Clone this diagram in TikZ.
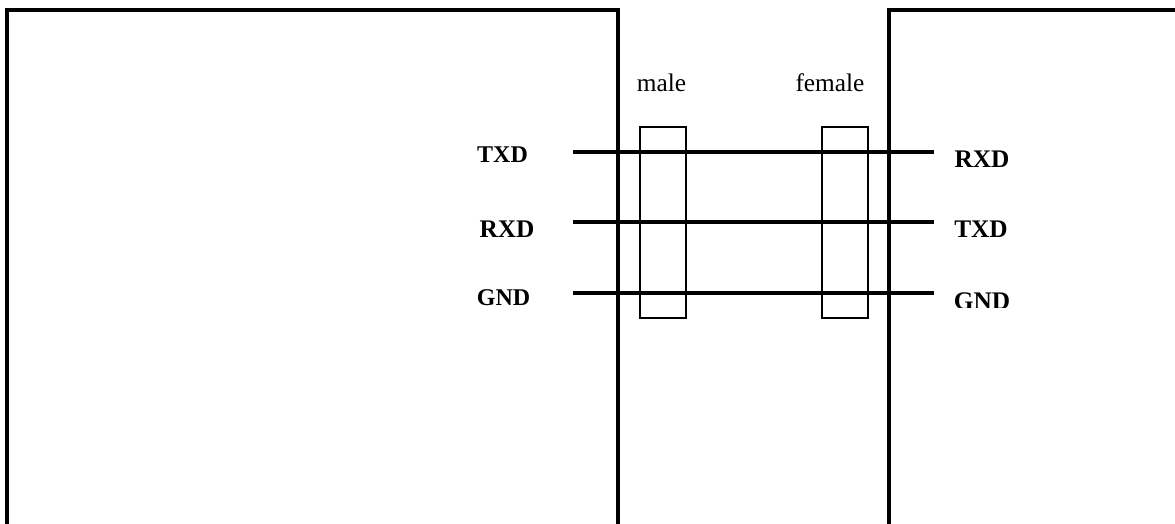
\documentclass[tikz,border=0pt]{standalone}
\usepackage{fontspec}
\setmainfont{Liberation Serif}
\usetikzlibrary{positioning}

\tikzset{
  board/.style={line width=3pt},
  wire/.style={line width=2.6pt},
  plug/.style={draw, line width=1.5pt, minimum width=46*0.75pt, minimum height=190*0.75pt, inner sep=0pt},
  sig/.style={font=\fontsize{19}{19}\selectfont\bfseries, inner sep=0pt, anchor=base},
  sigl/.style={font=\fontsize{18}{18}\selectfont\bfseries, inner sep=0pt, anchor=base},
  side/.style={font=\fontsize{19}{19}\selectfont, inner sep=0pt, anchor=base}
}

\begin{document}
\begin{tikzpicture}[x=0.75pt,y=-0.75pt]
      \useasboundingbox (0,0) rectangle (1175,524);

      % Desky
      \draw[board] (7,524) -- (7,10) -- (618,10) -- (618,524);
      \draw[board] (889,524) -- (889,10) -- (1175,10);

      % Konektory
      \node[plug] (male) at (663,222.5) {};
      \node[plug] (female) at (844.5,222.5) {};
      \node[side] (malelabel) at (661.5,92) {male};
      \node[side] (femalelabel) at (830,92) {female};

      % Vodice
      \coordinate (l1) at (573,152);
      \coordinate (r1) at (934,152);
      \coordinate (l2) at (573,222);
      \coordinate (r2) at (934,222);
      \coordinate (l3) at (573,293);
      \coordinate (r3) at (934,293);
      \draw[wire] (l1) -- (r1);
      \draw[wire] (l2) -- (r2);
      \draw[wire] (l3) -- (r3);

      % Signaly - spodek popisku je v predloze oriznuty
      \begin{scope}
        \clip (470,140) rectangle (1020,166.5) (470,212) rectangle (1020,236.5) (470,282) rectangle (1020,307);
        \node[sigl] (txdl) at (502.5,163) {TXD};
        \node[sig] (rxdl) at (507,238) {RXD};
        \node[sigl] (gndl) at (503.5,305) {GND};
        \node[sig] (rxdr) at (982,168) {RXD};
        \node[sig] (txdr) at (981,238) {TXD};
        \node[sig] (gndr) at (982,309) {GND};
      \end{scope}
    \end{tikzpicture}
\end{document}
